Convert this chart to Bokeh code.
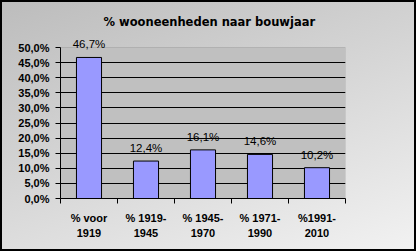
from bokeh.plotting import figure
from bokeh.models import ColumnDataSource, FixedTicker, CustomJSTickFormatter, LabelSet, Range1d, BoxAnnotation
from bokeh.core.properties import value
from bokeh.embed import file_html
from bokeh.resources import INLINE

title = "% wooneenheden naar bouwjaar"
categories = ["% voor\n1919", "% 1919-\n1945", "% 1945-\n1970", "% 1971-\n1990", "%1991-\n2010"]
values = [46.7, 12.4, 16.1, 14.6, 10.2]
value_labels = ["46,7%", "12,4%", "16,1%", "14,6%", "10,2%"]
y_ticks = [0, 5, 10, 15, 20, 25, 30, 35, 40, 45, 50]
y_max = 50

xs = [i + 0.5 for i in range(len(categories))]
source = ColumnDataSource(dict(x=xs, top=values, label=value_labels))

# frame extends 14px above the 50% line so the top value label is not clipped
extra_px = 14
plot_px = 151
p = figure(width=416, height=251, output_backend="svg", toolbar_location=None,
           x_range=Range1d(0, len(categories)),
           y_range=Range1d(0, y_max * (plot_px + extra_px) / plot_px),
           min_border_left=60, min_border_right=71, min_border_top=47 - extra_px, min_border_bottom=53)

p.border_fill_color = None
p.background_fill_color = None
p.outline_line_color = None
p.styles = {"background": "linear-gradient(160deg, #bcbcbc 0%, #d4d4d4 45%, #f2f2f2 100%)",
            "box-shadow": "inset 0 0 0 2px #000000"}

# plot area
area = BoxAnnotation(left=0, right=len(categories), bottom=0, top=y_max,
                     fill_color="#c0c0c0", fill_alpha=1, line_color="#808080", line_width=1,
                     level="image")
p.add_layout(area)

p.title.text = title
p.title.align = "left"
p.title.offset = 43
p.title.standoff = 9
p.title.text_font = "DejaVu Sans"
p.title.text_font_size = "11.5px"
p.title.text_font_style = "bold"
p.title.text_color = "#000000"

p.vbar(x="x", top="top", width=0.44, source=source, fill_color="#9999ff",
       line_color="#000000", line_width=1)

labels = LabelSet(x="x", y="top", text="label", source=source, text_align="center",
                  text_baseline="alphabetic", y_offset=9, text_font=value("Liberation Sans"),
                  text_font_size=value("11.5px"), text_color="#000000")
p.add_layout(labels)

# y axis
p.yaxis.ticker = FixedTicker(ticks=y_ticks)
p.yaxis.bounds = (0, y_max)
p.yaxis.formatter = CustomJSTickFormatter(code="return tick.toFixed(1).replace('.', ',') + '%';")
p.yaxis.major_tick_out = 5
p.yaxis.major_tick_in = 0
p.yaxis.minor_tick_line_color = None
p.yaxis.axis_line_color = "#000000"
p.yaxis.major_tick_line_color = "#000000"
p.yaxis.major_label_standoff = 6
p.yaxis.major_label_text_font = "Liberation Sans"
p.yaxis.major_label_text_font_size = "11px"
p.yaxis.major_label_text_font_style = "bold"
p.yaxis.major_label_text_color = "#000000"

# x axis: labels at category centres, tick marks at category boundaries
p.xaxis.ticker = FixedTicker(ticks=xs, minor_ticks=list(range(len(categories) + 1)))
p.xaxis.major_label_overrides = {x: c for x, c in zip(xs, categories)}
p.xaxis.major_tick_out = 0
p.xaxis.major_tick_in = 0
p.xaxis.minor_tick_out = 5
p.xaxis.minor_tick_in = 0
p.xaxis.minor_tick_line_color = "#000000"
p.xaxis.axis_line_color = "#000000"
p.xaxis.major_label_standoff = 8
p.xaxis.major_label_text_font = "Liberation Sans"
p.xaxis.major_label_text_font_size = "11px"
p.xaxis.major_label_text_font_style = "bold"
p.xaxis.major_label_text_color = "#000000"
p.xaxis.major_label_text_line_height = 1.3

p.xgrid.grid_line_color = None
p.ygrid.ticker = FixedTicker(ticks=y_ticks[1:-1])
p.ygrid.grid_line_color = "#000000"
p.ygrid.grid_line_width = 1

open("out.html", "w").write(file_html(p, INLINE))
